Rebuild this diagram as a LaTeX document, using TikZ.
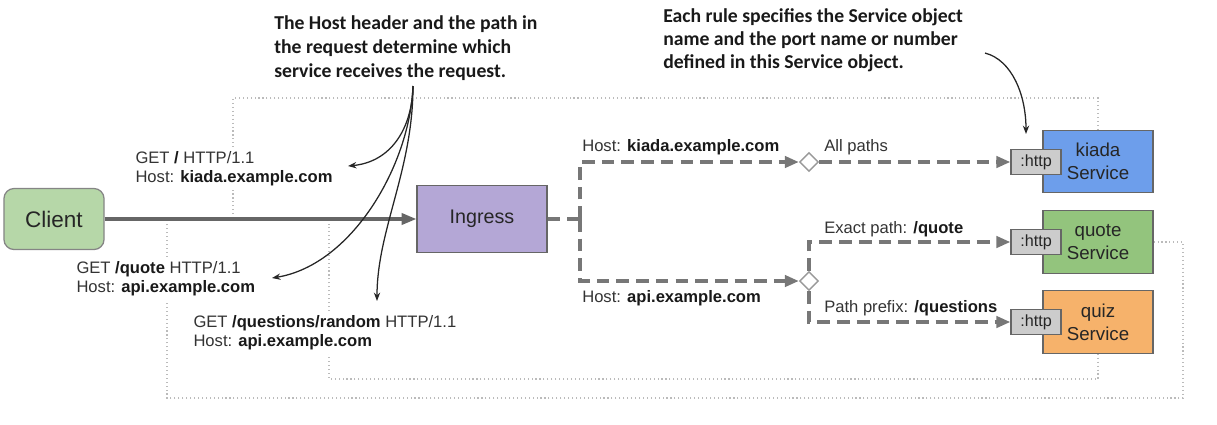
\documentclass[tikz,border=0pt]{standalone}
\usepackage{fontspec}
\setmainfont{Liberation Sans}[BoldFont={Liberation Sans Bold}]
\newfontfamily\annfont{Carlito}
\usetikzlibrary{arrows.meta,shapes.geometric,backgrounds}
\definecolor{clientg}{HTML}{B6D7A8}
\definecolor{ingressp}{HTML}{B4A7D6}
\definecolor{kiadab}{HTML}{6D9EEB}
\definecolor{quoteg}{HTML}{93C47D}
\definecolor{quizo}{HTML}{F6B26B}
\definecolor{portgray}{HTML}{CCCCCC}
\definecolor{edgegray}{HTML}{666666}
\definecolor{dashgray}{HTML}{777777}
\definecolor{dotgray}{HTML}{BBBBBB}
\definecolor{diagray}{HTML}{999999}
\definecolor{textgray}{HTML}{333333}
\tikzset{
  clientbox/.style={draw=edgegray!80, fill=clientg, line width=0.9pt, rounded corners=0.25cm,
    minimum width=2.5cm, minimum height=1.525cm, inner sep=0, font=\fontsize{16}{18}\selectfont, text=black!85},
  ingbox/.style={draw=edgegray, fill=ingressp, line width=0.9pt,
    minimum width=3.25cm, minimum height=1.675cm, inner sep=0, font=\fontsize{14}{16}\selectfont, text=black!85},
  svc/.style={draw=edgegray, line width=0.8pt, minimum width=2.75cm, minimum height=1.56cm,
    align=center, inner sep=0, font=\fontsize{13.3}{16.4}\selectfont, text=black!85},
  port/.style={draw=edgegray, fill=portgray, line width=0.8pt, minimum width=1.25cm,
    minimum height=0.625cm, inner sep=0, font=\fontsize{11.5}{13}\selectfont, text=black!85},
  dsh/.style={draw=dashgray, line width=2.6pt, dash pattern=on 9pt off 5pt},
  darr/.style={-{Triangle[length=10pt,width=8pt]}},
  dia/.style={diamond, draw=diagray, fill=white, line width=1pt, minimum width=0.47cm,
    minimum height=0.47cm, inner sep=0},
  dots/.style={draw=dotgray, line width=0.8pt, dash pattern=on 0.8pt off 2pt},
  mainarr/.style={draw=edgegray, line width=2.2pt, -{Triangle[length=10.5pt,width=8pt]}},
  req/.style={anchor=north west, align=left, fill=white, inner sep=3pt,
    font=\fontsize{11.8}{13.2}\selectfont, text=textgray},
  lab/.style={anchor=base west, inner sep=0, font=\fontsize{11.8}{13.2}\selectfont, text=textgray},
  ann/.style={anchor=north west, align=left, inner sep=0, text=black!90},
  callout/.style={draw=black!85, line width=0.9pt, -{Stealth[length=6pt,width=4.5pt]}},
}
\newcommand{\bk}[1]{\textbf{\color{black!90}#1}}
\begin{document}
\begin{tikzpicture}[x=0.025cm,y=-0.025cm]
\useasboundingbox (0,0) rectangle (1217,424);
% nodes
\node[clientbox] (client) at (54,219) {Client};
\node[ingbox] (ingress) at (482,219) {Ingress};
\node[svc, fill=kiadab] (kiada) at (1098,161.5) {kiada\\Service};
\node[svc, fill=quoteg] (quote) at (1098,242) {quote\\Service};
\node[svc, fill=quizo] (quiz) at (1098,322) {quiz\\Service};
\node[port] (hk) at (1036,162) {:http};
\node[port] (hq) at (1036,242) {:http};
\node[port] (hz) at (1036,322) {:http};
\node[dia] (d1) at (809,162) {};
\node[dia] (d2) at (809,281) {};
\coordinate (j) at (580,219);

% annotations
\node[ann, font=\annfont\bfseries\fontsize{14}{17.1}\selectfont] (ann1) at (274,15.5)
  {The Host header and the path in\\the request determine which\\service receives the request.};
\node[ann, font=\annfont\bfseries\fontsize{14}{16.4}\selectfont] (ann2) at (663,8.5)
  {Each rule specifies the Service object\\name and the port name or number\\defined in this Service object.};

% requests
\node[req] (r1) at (131,147) {GET \bk{/} HTTP/1.1\\Host: \bk{kiada.example.com}};
\node[req] (r2) at (72,257) {GET \bk{/quote} HTTP/1.1\\Host: \bk{api.example.com}};
\node[req] (r3) at (189,311) {GET \bk{/questions/random} HTTP/1.1\\Host: \bk{api.example.com}};

% labels
\node[lab] (lk) at (582,151) {Host: \bk{kiada.example.com}};
\node[lab] (la) at (582,302) {Host: \bk{api.example.com}};
\node[lab] (lall) at (824,151) {All paths};
\node[lab] (lex) at (824,233) {Exact path: \bk{/quote}};
\node[lab] (lpre) at (824,312) {Path prefix: \bk{/questions}};

% dotted request paths
\coordinate (t1) at (233,98);
\coordinate (e1) at (233,214);
\coordinate (r2c) at (1183,398);
\coordinate (e2) at (167,224);
\coordinate (c3) at (329,379);
\coordinate (e3) at (329,224);
\begin{pgfonlayer}{background}
\draw[dots] (kiada.north) |- (t1) -- (e1);
\draw[dots] (quote.east) -| (r2c) -| (e2);
\draw[dots] (quiz.south) |- (c3) -- (e3);
\end{pgfonlayer}

% main arrow
\draw[mainarr] (client) -- (ingress);

% dashed routing
\draw[dsh] (ingress.east) -- (j);
\draw[dsh, darr] (j) |- (d1.west);
\draw[dsh, darr] (j) |- (d2.west);
\draw[dsh, darr] (d1.east) -- (hk.west);
\draw[dsh, darr] (d2.north) |- (hq.west);
\draw[dsh, darr] (d2.south) |- (hz.west);

% callouts
\coordinate (s1) at (413,86);
\coordinate (c1) at (348,166);
\coordinate (c2) at (272,278);
\coordinate (c3e) at (377,301);
\draw[callout] (s1) .. controls (412,130) and (390,162) .. (c1);
\draw[callout] (s1) .. controls (410,165) and (352,265) .. (c2);
\draw[callout] (s1) .. controls (413,170) and (377,230) .. (c3e);
\coordinate (s2) at (985,53);
\coordinate (c4) at (1026,134);
\draw[callout] (s2) .. controls (1012,60) and (1026,95) .. (c4);
\end{tikzpicture}
\end{document}
